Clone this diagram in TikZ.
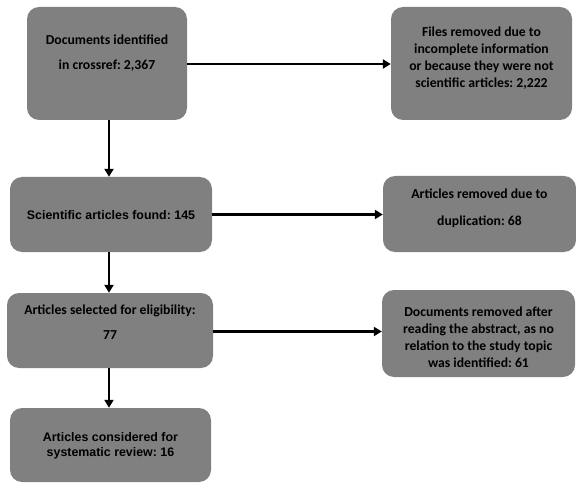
\documentclass[tikz,border=0pt]{standalone}
\usepackage{fontspec}
\setmainfont{Carlito}
\newfontfamily\arialf{Liberation Sans}
\usetikzlibrary{arrows.meta}
\frenchspacing
\definecolor{boxgray}{RGB}{128,128,128}
\tikzset{
  box/.style={fill=boxgray, rounded corners=12pt, inner sep=0pt, draw=none},
  txt/.style={align=center, font=\frenchspacing\bfseries\fontsize{13.7}{17}\selectfont, text=black, inner sep=0pt},
  atxt/.style={align=center, font=\frenchspacing\arialf\bfseries\fontsize{12.4}{15}\selectfont, text=black, inner sep=0pt},
  conn/.style={line width=2.4pt, -{Triangle[length=8pt,width=9pt]}}
}
\begin{document}
\begin{tikzpicture}[x=1pt,y=1pt]
\useasboundingbox (0,0) rectangle (576,-484);
\fill[white] (0,0) rectangle (576,-484);
% boxes
\node[box, minimum width=160pt, minimum height=113pt] (b1) at (107,-63.5) {};
\node[box, minimum width=181pt, minimum height=113pt] (b2) at (481.5,-63.5) {};
\node[box, minimum width=202pt, minimum height=75pt] (b3) at (111,-214.5) {};
\node[box, minimum width=193pt, minimum height=76pt] (b4) at (479.5,-214) {};
\node[box, minimum width=206pt, minimum height=75pt] (b5) at (110,-330.5) {};
\node[box, minimum width=193pt, minimum height=87pt] (b6) at (478.5,-333.5) {};
\node[box, minimum width=201pt, minimum height=74pt] (b7) at (110.5,-445) {};
% texts
\node[txt] (t1) at (107,-53.5) {Documents identified\\[8pt]in crossref: 2,367};
\node[txt] (t2) at (481.5,-58.5) {Files removed due to\\incomplete information\\or because they were not\\scientific articles: 2,222};
\node[atxt] (t3) at (111,-215) {Scientific articles found: 145};
\node[txt] (t4) at (479.5,-208.5) {Articles removed due to\\[10pt]duplication: 68};
\node[txt] (t5) at (110,-322.5) {Articles selected for eligibility:\\[8pt]77};
\node[txt] (t6) at (478.5,-337) {Documents removed after\\reading the abstract, as no\\relation to the study topic\\was identified: 61};
\node[atxt] (t7) at (110.5,-445.5) {Articles considered for\\systematic review: 16};
% connectors
\coordinate (cx) at (109,0);
\draw[conn] (b1.south -| cx) -- (b3.north -| cx);
\draw[conn] (b3.south -| cx) -- (b5.north -| cx);
\draw[conn] (b5.south -| cx) -- (b7.north -| cx);
\coordinate (h1) at (0,-64);
\coordinate (h3) at (0,-331.5);
\draw[conn] (b1.east |- h1) -- (b2.west |- h1);
\draw[conn] (b3.east) -- (b4.west |- b3.east);
\draw[conn] (b5.east |- h3) -- (b6.west |- h3);
\end{tikzpicture}
\end{document}
